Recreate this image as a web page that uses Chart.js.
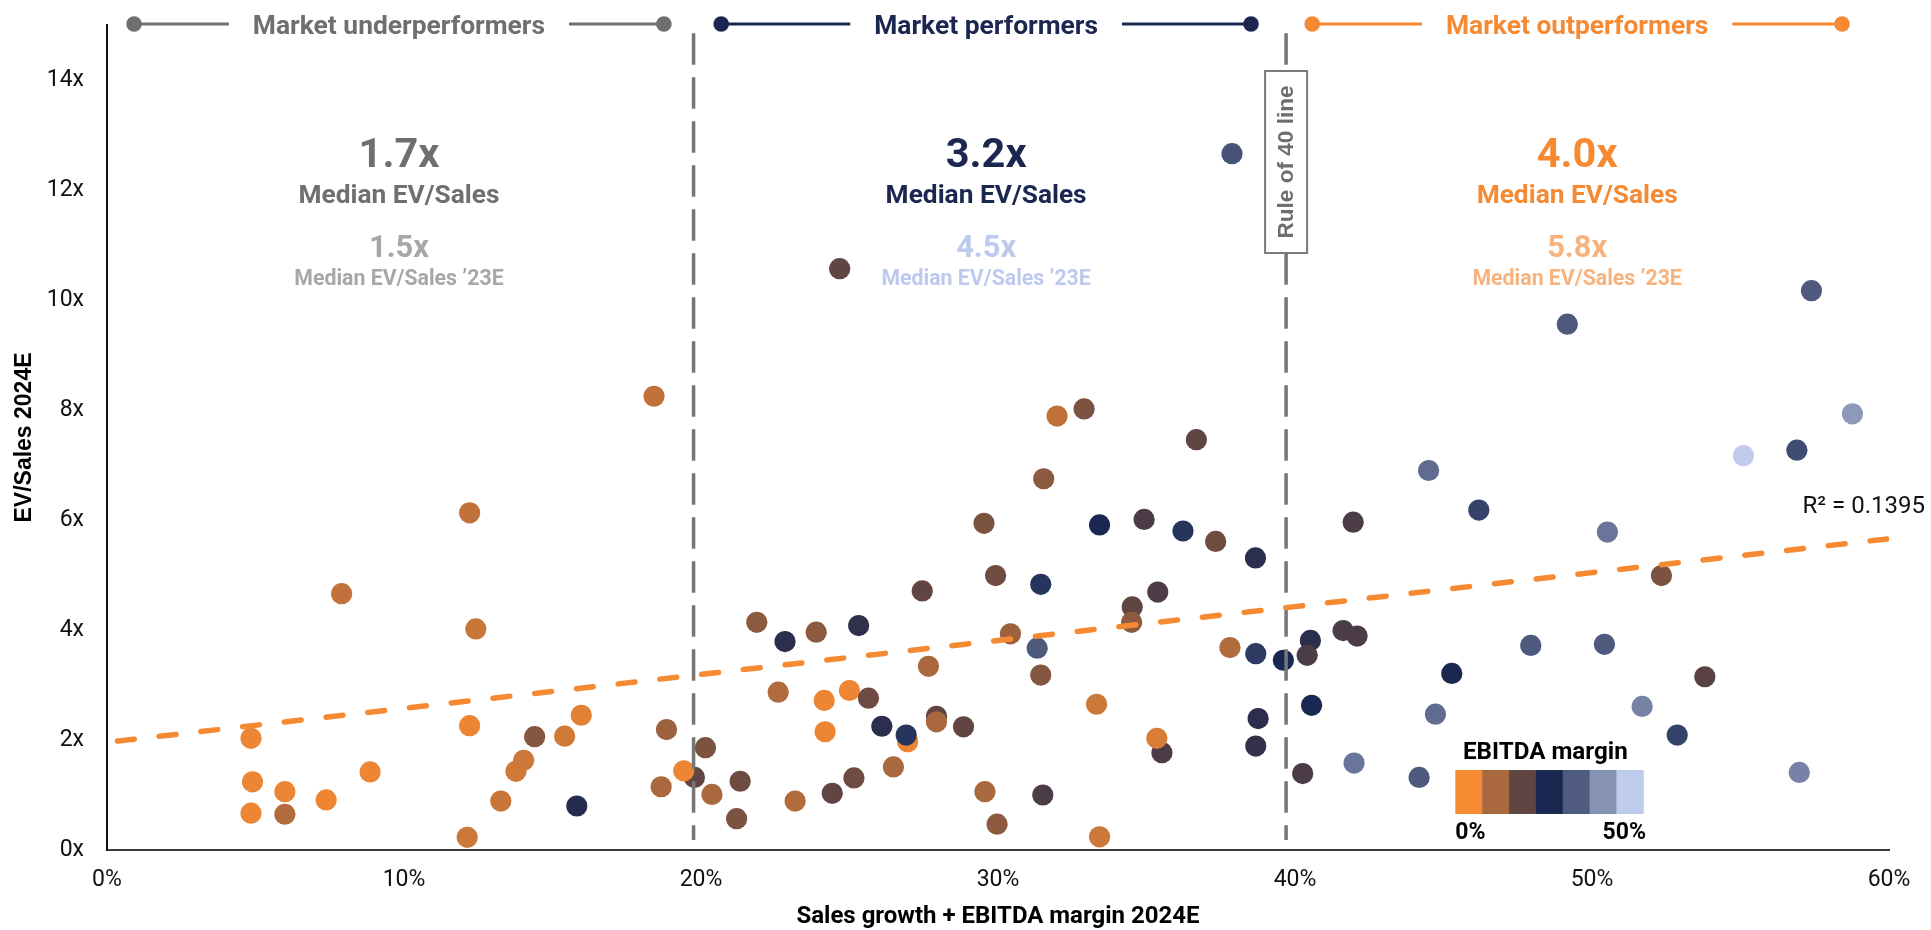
<!DOCTYPE html>
<html>
<head>
<meta charset="utf-8">
<script src="https://cdn.jsdelivr.net/npm/chart.js@4.4.1/dist/chart.umd.min.js"></script>
<style>
  html, body { margin: 0; padding: 0; background: #ffffff; }
  #wrap { width: 1931px; height: 930px; }
</style>
</head>
<body>
<div id="wrap"><canvas id="chart" width="1931" height="930"></canvas></div>
<script>
// Sales growth + EBITDA margin 2024E, in %
const growthPlusMargin = [
  4.85, 4.9, 4.85, 5.99, 5.99, 7.38, 7.9, 8.86, 12.21, 12.42,
  12.21, 12.13, 13.26, 13.77, 14.03, 14.4, 15.41, 15.82, 15.97, 18.42,
  18.66, 18.84, 19.78, 19.42, 20.15, 20.37, 21.2, 21.32, 21.88, 22.6,
  22.83, 23.17, 23.88, 24.15, 24.18, 24.42, 24.67, 25.0, 25.15, 25.31,
  25.64, 26.09, 26.48, 26.96, 26.91, 27.45, 27.66, 27.93, 27.93, 28.84,
  29.53, 29.56, 29.92, 29.97, 30.42, 31.32, 31.44, 31.44, 31.51, 31.54,
  31.99, 32.9, 33.32, 33.42, 33.42, 34.52, 34.5, 34.92, 35.52, 35.35,
  35.38, 36.23, 36.68, 37.33, 37.81, 37.88, 38.67, 38.68, 38.68, 38.76,
  39.61, 40.26, 40.52, 40.41, 40.56, 41.62, 41.96, 41.99, 42.09, 44.18,
  44.5, 44.73, 45.28, 46.19, 47.94, 49.17, 50.42, 50.52, 51.69, 52.34,
  52.87, 53.8, 55.1, 56.9, 56.98, 57.39, 58.77
];
// EV/Sales 2024E, multiple
const evSales2024 = [
  2.03, 1.24, 0.67, 1.06, 0.65, 0.91, 4.66, 1.42, 6.13, 4.02,
  2.26, 0.23, 0.89, 1.43, 1.63, 2.06, 2.07, 0.80, 2.45, 8.25,
  1.15, 2.19, 1.32, 1.44, 1.86, 1.01, 0.57, 1.25, 4.14, 2.87,
  3.79, 0.89, 3.96, 2.72, 2.15, 1.03, 10.57, 2.90, 1.31, 4.08,
  2.76, 2.25, 1.51, 1.97, 2.09, 4.71, 3.34, 2.43, 2.33, 2.24,
  5.94, 1.06, 4.99, 0.47, 3.93, 3.67, 3.18, 4.83, 1.00, 6.75,
  7.89, 8.02, 2.65, 0.24, 5.91, 4.42, 4.14, 6.01, 1.77, 2.03,
  4.69, 5.80, 7.46, 5.61, 3.68, 12.66, 5.31, 3.57, 1.89, 2.39,
  3.45, 1.39, 3.81, 3.54, 2.63, 3.99, 5.96, 1.58, 3.89, 1.32,
  6.90, 2.47, 3.21, 6.18, 3.72, 9.56, 3.74, 5.78, 2.61, 4.99,
  2.09, 3.15, 7.17, 7.27, 1.41, 10.17, 7.93
];
// EBITDA margin 2024E, in % (sets the dot colour)
const ebitdaMargin = [
  1, 1, 1, 1, 7.5, 1, 5.8, 1, 5.8, 4.8,
  1, 4.5, 4.8, 4, 4.5, 12.4, 4, 23.7, 2.3, 5.8,
  8.3, 9.8, 16.7, 1, 13.5, 8.3, 13.5, 15, 11.7, 7.5,
  23, 7.5, 11.7, 1, 1, 16.7, 16.7, 1, 15, 22.5,
  15, 23, 8.3, 1, 27, 16.7, 8.3, 16.7, 8.3, 16.7,
  13.5, 8.3, 15, 11.7, 9.8, 33, 12.4, 27, 19.3, 11.7,
  5.8, 13.5, 4.5, 4.5, 25, 16.7, 11.7, 19.3, 19.3, 3.3,
  19.3, 27, 16.7, 15, 7.5, 32, 23, 28.2, 22, 23,
  25, 19.3, 23, 19.3, 25, 19.3, 19.3, 37.3, 19.3, 33,
  35.7, 35.7, 25, 29.3, 33, 33, 33, 37.3, 39.3, 13.5,
  29.3, 17.5, 50, 30.9, 39.3, 33, 42.6
];

const xTickValues = [0, 10, 20, 30, 40, 50, 60];
const yTickValues = [0, 2, 4, 6, 8, 10, 12, 14];

// Segment borders on the x axis (growth + margin)
const segmentBreaks = [19.75, 39.7];

// Linear trend across all companies
const trendX = [0.35, 60];
const trendY = [1.98, 5.66];
const rSquared = 0.1395;

const segmentNames = ['Market underperformers', 'Market performers', 'Market outperformers'];
const medianEvSales = [1.7, 3.2, 4.0];
const medianEvSales23 = [1.5, 4.5, 5.8];
const marginRangeLabels = ['0%', '50%'];
const marginRange = [0, 50];

// ---- styling ----
const ORANGE = '#F58A33';
const RAMP = ['#F58A33', '#A9683D', '#614543', '#1A2750', '#4F5C80', '#8793B5', '#BFCCEB'];
const GROUP_STYLE = [
  { main: '#6F6F6F', soft: '#A7A7A7', centre: 9.83 },
  { main: '#1B2751', soft: '#BDC9EE', centre: 29.6 },
  { main: '#F58A33', soft: '#F8B27D', centre: 49.5 }
];
const GROUP_HALF_SPAN = 8.92;
const BREAK_COLOR = '#767676';

function hexToRgb(h) {
  const n = parseInt(h.slice(1), 16);
  return [(n >> 16) & 255, (n >> 8) & 255, n & 255];
}
function marginColor(m) {
  const t = Math.max(0, Math.min(1, (m - marginRange[0]) / (marginRange[1] - marginRange[0]))) * (RAMP.length - 1);
  const i = Math.min(RAMP.length - 2, Math.floor(t));
  const f = t - i;
  const a = hexToRgb(RAMP[i]), b = hexToRgb(RAMP[i + 1]);
  const c = a.map((v, k) => Math.round(v + (b[k] - v) * f));
  return `rgb(${c[0]},${c[1]},${c[2]})`;
}

const companyPoints = growthPlusMargin.map((x, i) => ({ x, y: evSales2024[i] }));
const companyColors = ebitdaMargin.map(marginColor);
const trendPoints = trendX.map((x, i) => ({ x, y: trendY[i] }));
const breakData = v => [{ x: v, y: 14.85 }, { x: v, y: 0.18 }];

const fmtX = v => v.toFixed(1) + 'x';

const overlayPlugin = {
  id: 'overlay',
  afterDatasetsDraw(chart) {
    const { ctx, scales: { x } } = chart;
    ctx.save();

    // segment headers with end markers, and the median blocks below them
    segmentNames.forEach((name, i) => {
      const g = GROUP_STYLE[i];
      const cx = x.getPixelForValue(g.centre);
      const x0 = x.getPixelForValue(g.centre - GROUP_HALF_SPAN);
      const x1 = x.getPixelForValue(g.centre + GROUP_HALF_SPAN);
      const ly = 24;
      ctx.font = 'bold 26.4px Roboto';
      const tw = ctx.measureText(name).width;
      ctx.strokeStyle = g.main;
      ctx.fillStyle = g.main;
      ctx.lineWidth = 3;
      ctx.beginPath();
      ctx.moveTo(x0, ly); ctx.lineTo(cx - tw / 2 - 24, ly);
      ctx.moveTo(cx + tw / 2 + 24, ly); ctx.lineTo(x1, ly);
      ctx.stroke();
      [x0, x1].forEach(px => { ctx.beginPath(); ctx.arc(px, ly, 7.8, 0, Math.PI * 2); ctx.fill(); });
      ctx.textAlign = 'center';
      ctx.textBaseline = 'alphabetic';
      ctx.fillText(name, cx, 33.5);

      ctx.font = 'bold 41.5px Roboto';
      ctx.fillText(fmtX(medianEvSales[i]), cx, 166.7);
      ctx.font = 'bold 26.3px Roboto';
      ctx.fillText('Median EV/Sales', cx, 202.7);
      ctx.fillStyle = g.soft;
      ctx.font = 'bold 30.8px Roboto';
      ctx.fillText(fmtX(medianEvSales23[i]), cx, 256.7);
      ctx.font = 'bold 21.3px Roboto';
      ctx.fillText('Median EV/Sales \u201923E', cx, 285);
    });

    // Rule of 40 tag on the second break line
    const bx = x.getPixelForValue(segmentBreaks[1]);
    ctx.fillStyle = '#ffffff';
    ctx.fillRect(bx - 21, 71, 42, 182);
    ctx.strokeStyle = '#7A7A7A';
    ctx.lineWidth = 2;
    ctx.strokeRect(bx - 21, 71, 42, 182);
    ctx.save();
    ctx.translate(bx + 1, 162);
    ctx.rotate(-Math.PI / 2);
    ctx.fillStyle = '#6E6E6E';
    ctx.font = 'bold 22.6px "Liberation Sans"';
    ctx.textAlign = 'center';
    ctx.textBaseline = 'middle';
    ctx.fillText('Rule of 40 line', 0, 0);
    ctx.restore();

    // R squared of the trend
    ctx.fillStyle = '#111111';
    ctx.font = '24px Roboto';
    ctx.textAlign = 'right';
    ctx.textBaseline = 'alphabetic';
    ctx.fillText('R\u00B2 = ' + rSquared.toFixed(4), 1925, 513);

    // EBITDA margin colour key
    const kx = 1455.3, kw = 188, ky = 770, kh = 44;
    const sw = kw / RAMP.length;
    RAMP.forEach((c, i) => { ctx.fillStyle = c; ctx.fillRect(kx + i * sw, ky, sw + 0.5, kh); });
    ctx.fillStyle = '#000000';
    ctx.font = 'bold 24.2px Roboto';
    ctx.textAlign = 'center';
    ctx.fillText('EBITDA margin', 1545.3, 759);
    ctx.font = 'bold 23px Roboto';
    ctx.textAlign = 'left';
    ctx.fillText(marginRangeLabels[0], kx, 839);
    ctx.textAlign = 'right';
    ctx.fillText(marginRangeLabels[1], 1646, 839);

    ctx.restore();
  }
};

new Chart(document.getElementById('chart'), {
  type: 'scatter',
  data: {
    datasets: [
      {
        label: 'Companies',
        data: companyPoints,
        pointBackgroundColor: companyColors,
        backgroundColor: companyColors,
        pointBorderWidth: 0,
        pointBorderColor: 'rgba(0,0,0,0)',
        pointRadius: 10.6,
        pointHoverRadius: 10.6,
        clip: false,
        order: 3
      },
      {
        label: 'Trend',
        data: trendPoints,
        showLine: true,
        borderColor: ORANGE,
        borderWidth: 5.5,
        borderDash: [17, 25],
        borderCapStyle: 'round',
        pointRadius: 0,
        order: 1
      },
      {
        label: 'Break 1',
        data: breakData(segmentBreaks[0]),
        showLine: true,
        borderColor: BREAK_COLOR,
        borderWidth: 3.5,
        borderDash: [31.5, 12.5],
        pointRadius: 0,
        order: 2
      },
      {
        label: 'Break 2',
        data: breakData(segmentBreaks[1]),
        showLine: true,
        borderColor: BREAK_COLOR,
        borderWidth: 3.5,
        borderDash: [31.5, 12.5],
        pointRadius: 0,
        order: 2
      }
    ]
  },
  options: {
    responsive: false,
    animation: false,
    devicePixelRatio: 1,
    events: [],
    layout: { padding: { top: 25, right: 42, bottom: 0, left: 0 } },
    plugins: { legend: { display: false }, tooltip: { enabled: false } },
    scales: {
      x: {
        type: 'linear',
        min: 0,
        max: 60,
        afterBuildTicks: s => { s.ticks = xTickValues.map(v => ({ value: v })); },
        afterFit: s => { s.height = 80; s.paddingLeft = 0; s.paddingRight = 0; },
        ticks: {
          callback: v => v + '%',
          font: { family: 'Roboto', size: 23 },
          color: '#111111',
          padding: 16,
          maxRotation: 0,
          autoSkip: false
        },
        grid: { display: false, drawTicks: false },
        border: { display: true, color: '#3A3A3A', width: 2 },
        title: {
          display: true,
          text: 'Sales growth + EBITDA margin 2024E',
          font: { family: 'Roboto', size: 24, weight: 'bold', lineHeight: 1.1 },
          color: '#000000',
          padding: { top: 0, bottom: 0 }
        }
      },
      y: {
        type: 'linear',
        min: 0,
        max: 15,
        afterBuildTicks: s => { s.ticks = yTickValues.map(v => ({ value: v })); },
        afterFit: s => { s.width = 107; s.paddingTop = 0; s.paddingBottom = 0; },
        ticks: {
          callback: v => v + 'x',
          font: { family: 'Roboto', size: 23 },
          color: '#111111',
          padding: 23,
          autoSkip: false
        },
        grid: { display: false, drawTicks: false },
        border: { display: true, color: '#111111', width: 2 },
        title: {
          display: true,
          text: 'EV/Sales 2024E',
          font: { family: 'Liberation Sans', size: 23, weight: 'bold' },
          color: '#000000',
          padding: { top: 10.7, bottom: 0 }
        }
      }
    }
  },
  plugins: [overlayPlugin]
});
</script>
</body>
</html>
